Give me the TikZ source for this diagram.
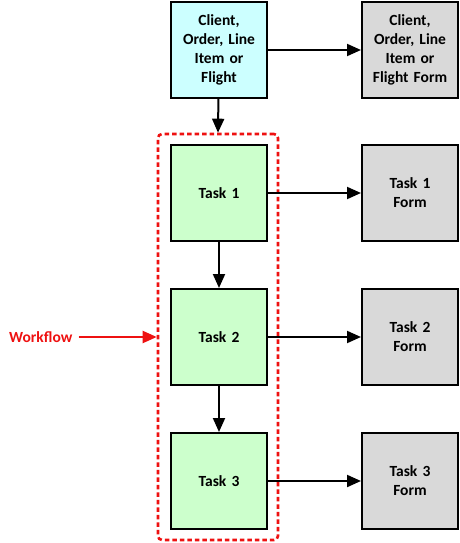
\documentclass[tikz,border=0pt]{standalone}
\usepackage{fontspec}
\setmainfont{Carlito}
\usetikzlibrary{arrows.meta}
\definecolor{cyanfill}{HTML}{CCFFFF}
\definecolor{greenfill}{HTML}{CCFFCC}
\definecolor{grayfill}{HTML}{D9D9D9}
\definecolor{wfred}{HTML}{EE1111}
\begin{document}
\begin{tikzpicture}[x=1pt,y=-1pt,
  box/.style={draw=black,line width=2pt,minimum width=96pt,minimum height=96pt,
    align=center,font=\fontsize{15.5}{19}\selectfont\bfseries,inner sep=0pt,text width=92pt},
  src/.style={box,fill=cyanfill},
  task/.style={box,fill=greenfill},
  form/.style={box,fill=grayfill},
  conn/.style={line width=2pt,-{Triangle[length=14pt,width=12pt]}}]
\useasboundingbox (0,0) rectangle (460,543);
\node[src]  (src)  at (219,50) {Client,\\Order, Line\\Item or\\Flight};
\node[form] (srcf) at (410,50) {Client,\\Order, Line\\Item or\\Flight Form};
\node[task] (t1) at (219,193) {Task 1};
\node[task] (t2) at (219,337) {Task 2};
\node[task] (t3) at (219,481) {Task 3};
\node[form] (f1) at (410,193) {Task 1\\Form};
\node[form] (f2) at (410,337) {Task 2\\Form};
\node[form] (f3) at (410,481) {Task 3\\Form};
\node[draw=wfred,line width=2.6pt,dash pattern=on 4.5pt off 3pt,rounded corners=4pt,
  minimum width=120pt,minimum height=406pt,inner sep=0pt] (wf) at (218,337) {};
\node[text=wfred,font=\fontsize{15.5}{16}\selectfont\bfseries,anchor=west,inner sep=0pt] (wl) at (9,337) {Workflow};
\draw[conn] (src) -- (wf.north);
\draw[conn] (t1) -- (t2);
\draw[conn] (t2) -- (t3);
\draw[conn] (src) -- (srcf);
\draw[conn] (t1) -- (f1);
\draw[conn] (t2) -- (f2);
\draw[conn] (t3) -- (f3);
\draw[conn,draw=wfred,fill=wfred,shorten <=6pt] (wl.east) -- (wf.west);
\end{tikzpicture}
\end{document}
